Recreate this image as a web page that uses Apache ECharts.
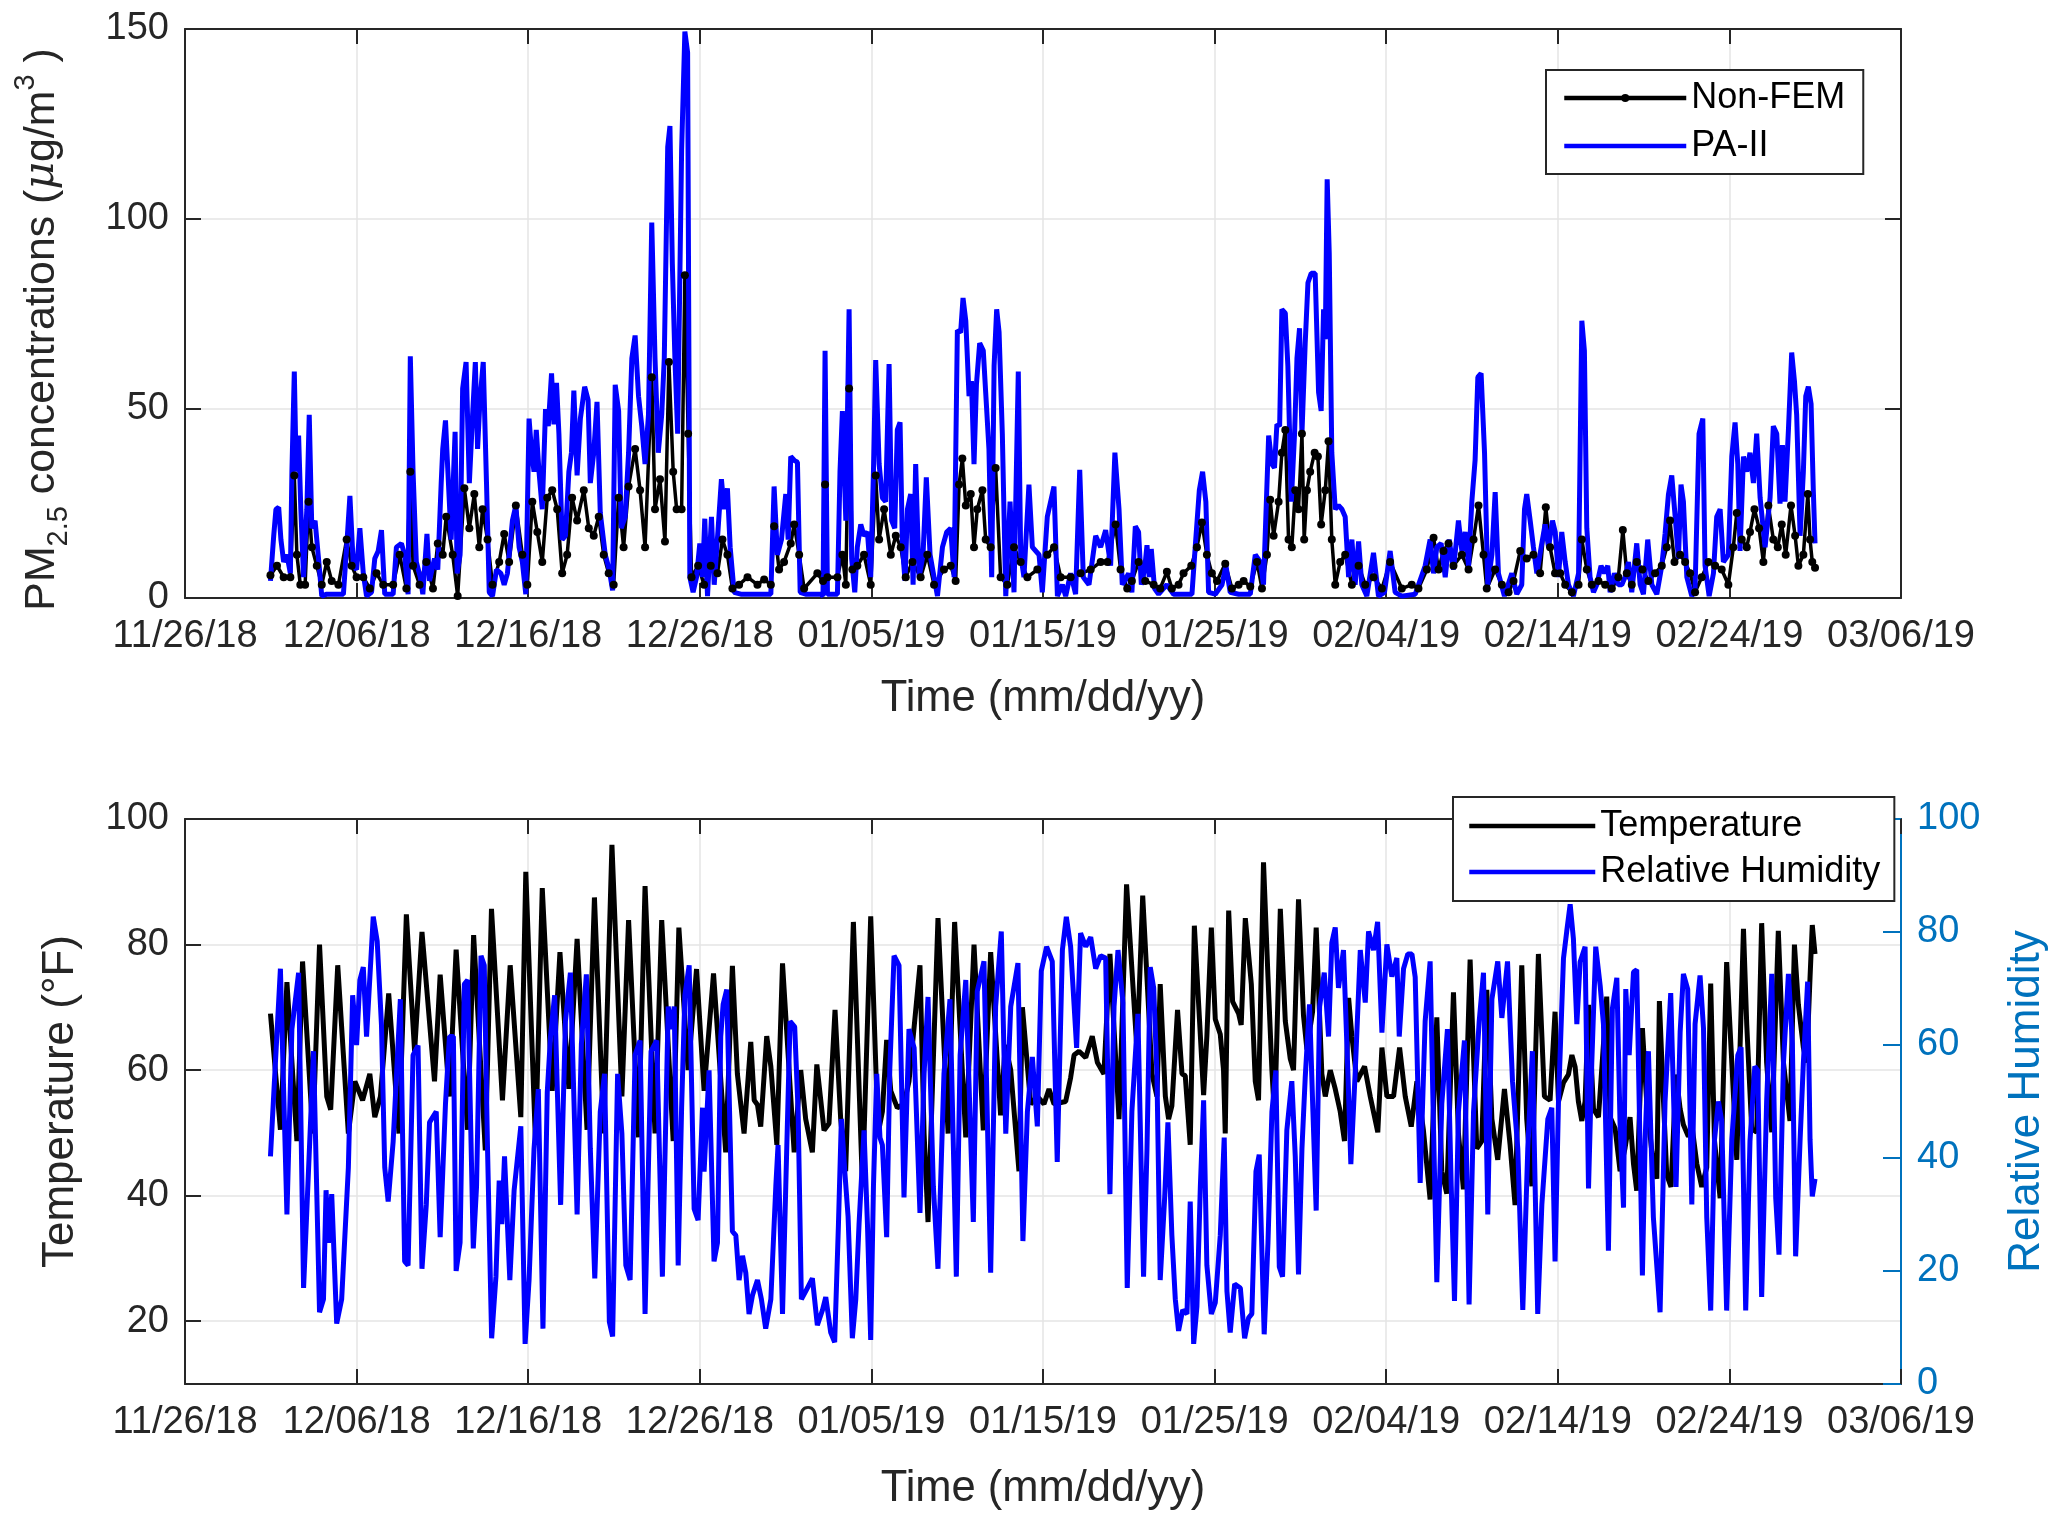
<!DOCTYPE html>
<html>
<head>
<meta charset="utf-8">
<script src="https://cdn.jsdelivr.net/npm/echarts@6/dist/echarts.min.js"></script>
<style>
  html, body { margin: 0; padding: 0; background: #fff; }
  #chart { width: 2067px; height: 1526px; }
</style>
</head>
<body>
<div id="chart"></div>
<script>
// time is in days since 11/26/18 00:00
const tickLabels = ['11/26/18', '12/06/18', '12/16/18', '12/26/18', '01/05/19', '01/15/19',
  '01/25/19', '02/04/19', '02/14/19', '02/24/19', '03/06/19'];

// PM2.5, ug/m3
const nonFem = [[4.98,6],[5.36,8.5],[5.75,5.5],[6.14,5.5],[6.37,32.3],[6.52,11.4],[6.72,3.5],[7.0,3.5],[7.20,25.4],[7.39,13.4],[7.68,8.5],[7.97,3.5],[8.26,9.5],[8.55,4.5],[8.94,3.5],[9.42,15.4],[9.71,8.5],[10.0,5.5],[10.39,5.5],[10.77,2.5],[11.16,6.5],[11.55,3.5],[12.13,3.5],[12.51,11.4],[12.90,2.5],[13.13,33.3],[13.29,8.5],[13.67,3.5],[14.06,9.5],[14.45,2.5],[14.73,14.4],[15.02,11.4],[15.22,21.4],[15.60,11.4],[15.89,0.5],[16.28,28.9],[16.57,18.4],[16.86,27.4],[17.15,13.4],[17.34,23.4],[17.63,15.4],[17.92,3.5],[18.31,9.5],[18.60,16.9],[18.89,9.5],[19.28,24.4],[19.66,11.4],[19.95,3.5],[20.24,25.4],[20.53,17.4],[20.82,9.5],[21.11,26.4],[21.40,28.4],[21.69,23.4],[21.98,6.5],[22.27,11.4],[22.56,26.4],[22.85,20.4],[23.24,28.4],[23.53,18.4],[23.82,16.4],[24.11,21.4],[24.40,11.4],[24.69,6.5],[24.98,3.5],[25.27,26.4],[25.56,13.4],[25.85,29.4],[26.23,39.3],[26.52,28.4],[26.81,13.4],[27.20,58.2],[27.39,23.4],[27.68,31.3],[27.97,14.9],[28.20,62.2],[28.45,33.3],[28.65,23.4],[28.94,23.4],[29.13,85.1],[29.32,43.3],[29.52,5.5],[29.90,8.5],
  [30.25,3.5],[30.64,8.5],[31.03,6.5],[31.32,15.4],[31.61,11.4],[31.90,2.5],[32.29,3.5],[32.78,5.5],[33.36,3.5],[33.75,4.9],[34.14,3.5],[34.33,18.9],[34.62,7.5],[34.91,9.5],[35.30,14.4],[35.50,19.4],[35.79,11.4],[36.08,2.5],[36.85,6.5],[37.18,4.5],[37.30,29.9],[37.44,5.5],[38.02,5.5],[38.31,11.4],[38.51,3.5],[38.70,55.2],[38.89,7.5],[39.18,8.5],[39.57,11.4],[39.96,3.5],[40.25,32.3],[40.45,15.4],[40.74,23.4],[41.13,11.4],[41.42,16.4],[41.71,13.4],[42.0,5.5],[42.39,9.5],[42.87,5.5],[43.26,11.4],[43.65,3.5],[44.23,7.5],[44.62,8.5],[44.91,4.5],[45.11,29.9],[45.30,36.8],[45.50,24.4],[45.79,27.4],[45.98,13.4],[46.17,23.4],[46.47,28.4],[46.66,15.4],[46.95,13.4],[47.24,34.3],[47.53,5.5],[47.92,3.5],[48.31,13.4],[48.70,9.5],[49.09,5.5],[49.67,7.5],[50.25,11.4],[50.64,13.4],[51.03,5.5],[51.61,5.5],[52.19,6.5],[52.78,7.5],[53.36,9.5],[53.75,9.5],[54.23,19.4],[54.52,7.5],[54.91,2.5],
  [55.18,4.5],[55.57,9.5],[55.96,4.5],[56.45,3.5],[56.83,2.5],[57.22,6.9],[57.51,2.5],[57.90,3.5],[58.19,6.5],[58.64,8.5],[58.97,13.4],[59.26,19.9],[59.55,11.4],[59.84,6.5],[60.14,4.5],[60.62,9],[61.01,2.5],[61.40,3.5],[61.69,4.5],[62.08,3],[62.47,9.5],[62.76,2.5],[63.05,11.4],[63.24,25.9],[63.44,16.4],[63.73,25.4],[63.92,38.3],[64.12,44.3],[64.31,15.4],[64.50,13.4],[64.70,28.4],[64.89,23.4],[65.09,43.3],[65.22,15.4],[65.38,28.4],[65.57,33.3],[65.83,38.3],[66.02,37.3],[66.21,19.4],[66.45,28.4],[66.64,41.3],[66.83,15.4],[67.03,3.5],[67.32,9.5],[67.61,11.4],[68.0,3.5],[68.39,8.5],[68.78,3.5],[69.26,5.5],[69.75,2.5],[70.23,9.5],[70.91,2.5],[71.49,3.5],[71.88,2.5],[72.37,7.5],[72.76,15.9],[73.05,7.5],[73.34,12.4],[73.63,14.4],[73.92,8.5],[74.41,11.4],[74.80,7.5],[75.09,15.4],[75.38,24.4],[75.67,11.4],[75.86,2.5],[76.35,7.5],[76.74,3.5],[77.13,1.5],[77.42,4.5],[77.81,12.4],[78.19,10.4],[78.58,11.4],[78.97,6.5],[79.30,23.9],[79.55,13.4],[79.84,6.5],
  [80.14,6.5],[80.43,3.5],[80.82,1.5],[81.21,3.5],[81.40,15.4],[81.69,7.5],[81.98,3.5],[82.37,4.5],[82.76,3.5],[83.15,2.5],[83.53,5.5],[83.79,17.9],[84.02,6.5],[84.31,3.5],[84.60,9.5],[84.93,7.5],[85.28,4.5],[85.67,6.5],[86.06,8.5],[86.35,13.4],[86.54,20.4],[86.80,9.5],[87.13,11.4],[87.42,9.5],[87.71,6.5],[88.0,1.5],[88.39,5.5],[88.78,9.5],[89.17,8.5],[89.55,7.5],[89.94,3.5],[90.23,13.4],[90.43,22.4],[90.72,15.4],[91.01,13.4],[91.20,17.4],[91.46,23.4],[91.73,18.4],[91.98,9.5],[92.27,24.4],[92.56,15.4],[92.82,13.4],[93.05,19.4],[93.28,11.4],[93.59,24.4],[93.83,16.4],[94.02,8.5],[94.31,11.4],[94.57,27.4],[94.70,15.4],[94.83,9.5],[94.99,8]];

const paII = [[4.98,4.5],[5.17,16.4],[5.30,23.4],[5.46,23.9],[5.59,15.4],[5.75,9.5],[5.94,11.4],[6.14,6.5],[6.23,33.3],[6.37,59.7],[6.48,33.3],[6.62,42.8],[6.75,23.4],[6.91,5.5],[7.10,23.4],[7.24,48.3],[7.39,18.4],[7.58,20.4],[7.78,10.4],[7.97,0.5],[8.26,1],[8.65,1],[9.23,1],[9.42,13.4],[9.61,26.9],[9.81,8.5],[10.0,7.5],[10.19,18.4],[10.39,6.5],[10.58,0.5],[10.87,1.5],[11.06,10.4],[11.26,12.4],[11.45,17.9],[11.64,1],[11.93,1],[12.13,1],[12.32,13.4],[12.61,14.4],[12.80,11.4],[13.0,1],[13.13,63.7],[13.29,33.3],[13.48,9.5],[13.71,5.5],[13.86,1],[14.10,16.9],[14.25,4.5],[14.54,10.4],[14.73,7.5],[14.93,30.3],[15.02,39.3],[15.18,46.8],[15.31,34.3],[15.51,15.4],[15.74,43.8],[15.86,6.5],[16.03,11.4],[16.18,55.2],[16.38,62.2],[16.57,30.3],[16.76,48.3],[16.92,62.2],[17.05,39.3],[17.19,52.2],[17.38,62.2],[17.57,30.3],[17.73,1.5],[17.92,0.5],[18.15,7.5],[18.41,6.5],[18.60,3.5],[18.79,6.5],[19.08,20.4],[19.28,24.4],[19.47,13.4],[19.66,9.5],[19.86,1],[20.05,47.3],[20.20,38.3],[20.34,33.3],[20.47,44.3],[20.63,33.3],[20.82,23.4],[21.01,49.8],[21.17,45.3],[21.36,59.2],[21.50,45.8],[21.65,56.7],[21.79,43.3],[21.98,15.4],[22.17,16.4],[22.37,33.3],[22.52,38.3],[22.66,54.7],[22.85,32.3],[23.04,47.3],[23.29,55.7],[23.49,52.2],[23.62,30.3],[23.82,38.3],[24.01,51.7],[24.20,22.4],[24.49,11.4],[24.72,7.5],[24.92,2],[25.07,56.2],[25.27,49.3],[25.42,18.4],[25.65,21.4],[25.85,38.3],[26.04,63.2],[26.23,69.2],[26.43,53.2],[26.62,45.3],[26.81,35.3],[27.01,48.3],[27.20,99],[27.39,63.2],[27.58,38.3],[27.78,48.3],[27.93,63.2],[28.13,118.9],[28.26,124.4],[28.40,88.1],[28.55,63.2],[28.71,43.3],[28.94,117.9],[29.13,149.3],[29.29,143.8],[29.42,5.5],[29.61,1.5],[29.81,5.5],
  [30.0,14.4],[30.16,5.5],[30.29,20.9],[30.45,0.5],[30.68,21.4],[30.84,3.5],[31.07,18.4],[31.26,31.3],[31.42,23.4],[31.61,28.9],[31.77,13.4],[32.0,1.5],[32.39,1],[33.36,1],[34.14,1],[34.33,29.4],[34.52,11.4],[34.76,15.4],[35.01,27.4],[35.15,15.4],[35.30,37.3],[35.50,36.3],[35.69,35.8],[35.85,1.5],[36.17,1],[37.05,1],[37.18,0.5],[37.30,65.2],[37.44,1],[38.02,1],[38.17,33.3],[38.31,49.3],[38.51,20.4],[38.70,76.1],[38.85,10.4],[39.03,1.5],[39.18,13.4],[39.38,19.4],[39.57,16.4],[39.77,17.4],[39.96,5.5],[40.12,33.3],[40.25,62.7],[40.45,35.3],[40.64,26.4],[40.83,25.4],[41.03,61.7],[41.18,20.4],[41.36,18.4],[41.51,44.3],[41.67,46.3],[41.81,13.4],[41.96,4.5],[42.10,23.4],[42.29,27.4],[42.43,3.5],[42.58,35.3],[42.78,5.5],[43.01,11.4],[43.20,31.8],[43.42,11.4],[43.65,5.5],[43.85,0.5],[44.14,13.4],[44.39,17.4],[44.62,18.4],[44.82,5.5],[45.01,70.6],[45.20,70],[45.34,79.1],[45.50,73.1],[45.69,53.2],[45.83,57.2],[45.98,35.3],[46.12,56.2],[46.31,67.2],[46.52,65.2],[46.66,54.2],[46.85,39.3],[47.01,5.5],[47.15,61.2],[47.30,76.1],[47.44,70.1],[47.63,43.3],[47.83,0.5],[48.08,25.4],[48.31,1.5],[48.56,59.7],[48.70,11.4],[48.89,5.5],[49.18,29.9],[49.38,13.4],[49.77,11.4],[49.96,1.5],[50.25,21.4],[50.64,29.4],[50.84,0.5],[51.13,3.5],[51.32,0.5],[51.61,6.5],[51.90,1],[52.14,33.8],[52.35,5.5],[52.68,3.5],[53.07,16.4],[53.36,13.4],[53.65,17.9],[53.94,8.5],[54.19,38.3],[54.43,23.4],[54.62,3.5],
  [54.99,6.5],[55.18,1.5],[55.38,18.9],[55.57,17.4],[55.73,3.5],[55.92,7.5],[56.06,13.9],[56.19,5.5],[56.31,12.9],[56.50,2.5],[56.74,1],[57.22,3.5],[57.61,1],[58.19,1],[58.68,1],[58.87,13.4],[59.11,28.4],[59.30,33.3],[59.49,25.4],[59.65,1.5],[60.04,1],[60.43,3.5],[60.66,8.5],[60.91,1.5],[61.40,1],[62.08,1],[62.37,11.4],[62.66,9.5],[62.85,3.5],[63.15,42.8],[63.34,35.3],[63.49,34.3],[63.63,45.8],[63.79,45.3],[63.92,76.1],[64.12,75.1],[64.27,61.2],[64.47,25.4],[64.66,43.3],[64.80,63.2],[64.95,71.1],[65.09,43.3],[65.28,67.2],[65.44,83.1],[65.63,85.6],[65.86,85.6],[66.06,54.2],[66.21,49.3],[66.35,76.1],[66.45,68.2],[66.56,110.4],[66.68,91],[66.83,38.3],[67.03,23.4],[67.22,24.4],[67.42,23.4],[67.61,21.4],[67.81,5.5],[68.0,15.4],[68.19,3.5],[68.39,14.9],[68.58,3.5],[68.87,0.5],[69.26,11.9],[69.55,0.5],[69.90,1.5],[70.23,12.4],[70.52,1.5],[70.91,0.5],[71.69,1],[72.27,8.5],[72.56,15.4],[72.76,6.5],[72.95,13.4],[73.20,14.4],[73.44,5.5],[73.67,15.4],[73.92,7.5],[74.21,20.4],[74.41,12.4],[74.60,17.4],[74.80,8.5],[74.99,25.4],[75.18,36.3],[75.34,58.2],[75.53,59.2],[75.73,38.3],[75.92,3.5],[76.16,11.4],[76.35,27.9],[76.54,6.5],[76.89,0.5],[77.32,6.5],[77.61,1],[77.90,3.5],[78.06,23.4],[78.19,27.4],[78.39,20.4],[78.58,13.4],[78.78,6.5],[79.03,13.4],[79.26,19.4],[79.46,13.4],[79.69,20.4],
  [79.85,17.4],[80.04,5.5],[80.23,17.4],[80.43,9.5],[80.62,3.5],[80.91,0.5],[81.21,6.5],[81.40,73.1],[81.55,65.2],[81.69,18.4],[81.88,5.5],[82.08,1.5],[82.27,3.5],[82.52,8.5],[82.72,6.5],[82.91,8.5],[83.05,1.5],[83.30,6.5],[83.53,3.5],[83.73,3.5],[83.92,5.5],[84.12,9.5],[84.31,1.5],[84.60,14.4],[84.80,3.5],[84.99,1],[85.24,15.4],[85.48,3.5],[85.77,1],[86.06,8.5],[86.25,16.9],[86.45,27.4],[86.64,32.3],[86.84,21.4],[87.03,10.4],[87.18,29.9],[87.32,25.4],[87.52,5.5],[87.81,0.5],[88.0,2.5],[88.23,43.3],[88.45,47.3],[88.58,8.5],[88.82,0.5],[89.07,6.5],[89.26,21.4],[89.46,23.4],[89.65,9.5],[89.94,11.4],[90.14,37.3],[90.33,46.3],[90.49,35.3],[90.62,12.4],[90.82,37.3],[91.01,33.3],[91.20,38.3],[91.40,30.3],[91.59,43.3],[91.79,26.4],[92.08,13.4],[92.37,26.4],[92.56,45.3],[92.76,43.3],[92.95,24.9],[93.09,40.3],[93.24,25.4],[93.44,44.3],[93.63,64.7],[93.79,57.2],[93.92,48.3],[94.12,16.4],[94.31,33.3],[94.45,53.2],[94.60,55.7],[94.76,51.2],[94.89,28.4],[94.99,14.4]];

// temperature, F
const temperature = [[4.98,69],[5.56,50.5],[5.94,74],[6.52,48.7],[6.85,77.3],[7.45,49.9],[7.84,80],[8.26,55.8],[8.49,53.7],[8.90,76.7],[9.52,49.9],[9.90,58.2],[10.35,55.2],[10.77,59.4],[11.06,52.5],[11.39,55.8],[11.87,72.2],[12.47,49.9],[12.90,84.8],[13.38,63],[13.81,82],[14.54,58.2],[14.87,75.2],[15.41,55.8],[15.80,79.2],[16.47,50.5],[16.82,81.5],[17.50,47.2],[17.86,85.7],[18.50,55.2],[18.95,76.7],[19.57,52.5],[19.86,91.6],[20.43,48.1],[20.82,89],[21.40,56.7],[21.85,78.8],[22.37,57],[22.85,80.9],[23.43,50.5],[23.86,87.5],[24.40,49.9],[24.88,95.9],[25.46,55.8],[25.85,83.9],[26.43,49.3],[26.81,89.3],[27.39,49.9],[27.78,83.9],[28.45,48.7],[28.78,82.7],[29.32,60],[29.81,76.1],
  [30.25,56.7],[30.80,75.4],[31.51,46.9],[31.90,76.6],[32.19,59.4],[32.58,49.9],[32.97,64.5],[33.17,55.2],[33.36,54.5],[33.55,51],[33.90,65.4],[34.14,60.6],[34.49,48.1],[34.82,77],[35.50,46.9],[35.88,60],[36.17,52.2],[36.56,46.9],[36.82,60.9],[37.05,55.2],[37.24,50.4],[37.53,51.5],[37.88,69.6],[38.21,52.2],[38.50,43.9],[38.95,83.6],[39.48,41.5],[39.96,84.5],[40.39,49.9],[40.64,53.4],[40.89,64.8],[41.13,56.7],[41.51,54],[41.90,54.6],[42.19,58.2],[42.83,76.7],[43.07,49.9],[43.30,35.8],[43.88,84.2],[44.47,49.9],[44.85,83.6],[45.50,49.3],[45.98,80],[46.52,50.4],[46.95,78.8],[47.53,52.8],[47.80,64],[48.12,60],[48.60,43.9],[48.80,70],[49.28,54.6],[49.67,55.8],[50.06,54.6],[50.35,57],[50.64,54.6],[51.32,55],[51.61,58.8],[51.81,62.4],[52.10,63],[52.49,62],[52.87,65.4],[53.17,61.2],[53.55,59.4],[53.90,78.5],[54.43,52.2],[54.87,89.6],
  [55.48,63],[55.81,87.8],[56.35,59.4],[56.64,55.8],[56.83,73.7],[57.13,55.8],[57.32,52.2],[57.51,54.3],[57.84,69.6],[58.10,59.4],[58.29,59.1],[58.58,48.1],[58.82,83],[59.36,56],[59.55,65.4],[59.81,82.7],[60.04,68.1],[60.33,65.7],[60.52,60],[60.62,49.9],[60.82,85.4],[61.05,70.9],[61.40,69],[61.55,67.2],[61.79,84.2],[62.14,73.7],[62.37,58.2],[62.56,55.2],[62.85,93.1],[63.11,74.9],[63.34,60],[63.50,52.2],[63.83,85.7],[64.12,67.8],[64.41,61.8],[64.60,60],[64.89,87.2],[65.18,68.7],[65.38,63.3],[65.71,69.3],[65.92,82.7],[66.25,59.4],[66.45,55.8],[66.74,60],[67.03,57],[67.32,53.4],[67.57,48.7],[67.81,71.5],[68.00,65.4],[68.29,58.2],[68.74,60.6],[69.07,55.8],[69.51,50.1],[69.75,63.6],[70.04,55.8],[70.43,55.8],[70.78,63.6],[71.11,55.8],[71.46,51],[71.79,58.2],[72.17,50.4],[72.56,39.4],[72.95,68.4],[73.24,43.9],[73.53,40.3],[73.92,72.4],[74.21,49.9],[74.50,41],[74.89,77.6],[75.28,47.5],[75.57,48.7],[75.86,72.8],[76.16,52.2],[76.50,45.7],[76.89,57],[77.22,48.1],[77.51,38.5],[77.90,76.7],[78.19,52.2],[78.49,41.5],[78.87,78.5],[79.22,55.8],[79.55,55.2],[79.84,69.3],
  [80.04,55],[80.33,58],[80.62,59.3],[80.82,62.4],[81.01,60.5],[81.20,55],[81.40,51.9],[81.59,55],[81.79,70.4],[82.08,53.8],[82.37,52.5],[82.85,71.7],[83.05,52.5],[83.34,50.7],[83.63,43.9],[83.92,47.6],[84.21,52.5],[84.41,45.1],[84.60,40.8],[84.93,66.7],[85.18,55],[85.48,47],[85.77,42.7],[85.92,71],[86.16,55],[86.35,43.3],[86.60,41.4],[86.89,59.3],[87.13,53.8],[87.32,51.3],[87.61,49.4],[87.84,50.7],[88.10,45.1],[88.39,41.4],[88.68,44.5],[88.91,73.8],[89.13,48.8],[89.46,39.6],[89.84,77.2],[90.14,61.2],[90.43,45.7],[90.82,82.5],[91.01,67.3],[91.30,50.7],[91.59,50.1],[91.88,83.4],[92.17,61.2],[92.47,50.1],[92.85,82.2],[93.15,61.2],[93.53,51.9],[93.79,80],[94.02,70.4],[94.31,63.6],[94.50,61.2],[94.70,74.8],[94.83,83.1],[94.99,78.5]];

// relative humidity, %
const humidity = [[4.98,40.3],[5.56,73.5],[5.94,30],[6.23,62.8],[6.62,72.8],[6.91,17],[7.49,58.9],[7.84,12.7],[8.07,15],[8.22,34.3],[8.36,25],[8.55,33.6],[8.84,10.7],[9.13,15],[9.52,38.3],[9.77,68.8],[10.0,60],[10.19,71.5],[10.39,73.8],[10.58,61.5],[10.97,82.7],[11.20,78.4],[11.45,63.5],[11.64,38.3],[11.84,32.3],[12.13,42.9],[12.55,68.1],[12.80,21.7],[13.0,21],[13.29,58.2],[13.58,59.9],[13.81,20.4],[14.06,31.7],[14.25,46.3],[14.64,48.2],[14.87,26],[15.18,49.6],[15.41,61.5],[15.64,61.5],[15.80,20],[16.03,25],[16.28,70.8],[16.47,71.5],[16.80,24],[16.99,35],[17.25,75.8],[17.44,74.1],[17.63,41.6],[17.87,8.1],[18.12,19],[18.31,36],[18.46,28.3],[18.62,40.3],[18.93,18.4],[19.18,34.3],[19.57,45.6],[19.82,7.1],[20.05,18.4],[20.34,41.6],[20.59,52.2],[20.86,9.8],[21.11,51.6],[21.30,61.5],[21.54,68.8],[21.89,31.7],[22.17,64.2],[22.46,72.8],[22.85,30],[23.10,60.2],[23.39,72.5],[23.62,41.6],[23.88,18.7],[24.20,48.2],[24.45,54.9],[24.73,11],[24.92,8.4],[25.21,54.9],[25.46,44.3],[25.69,21],[25.94,18.4],[26.23,58.2],[26.52,60.8],[26.81,12.4],[27.16,58.9],[27.49,60.8],[27.82,19],[28.16,66.8],[28.36,62.8],[28.51,66.8],[28.74,21],[28.94,48.9],[29.13,68.8],[29.38,74.1],[29.67,31],[29.90,29],
  [30.16,48.9],[30.25,37.6],[30.54,55.5],[30.83,21.7],[31.03,25],[31.22,61.5],[31.36,67.2],[31.57,69.8],[31.77,43.6],[31.90,27],[32.10,26.3],[32.29,18.4],[32.49,22.7],[32.68,19.7],[32.87,12.4],[33.07,15.7],[33.36,18.4],[33.59,15],[33.84,9.8],[34.14,15],[34.43,35],[34.56,42.3],[34.82,12.4],[35.01,35],[35.26,64.2],[35.53,63.2],[35.73,48.2],[35.92,15],[36.17,16.4],[36.56,18.7],[36.85,10.4],[37.15,13.1],[37.34,15.4],[37.63,9.1],[37.86,7.4],[38.08,28.3],[38.25,46.9],[38.45,37.6],[38.64,29.7],[38.89,8.1],[39.09,15],[39.28,28.3],[39.57,44.9],[39.77,28.3],[39.96,7.8],[40.12,35],[40.31,54.9],[40.50,43.6],[40.64,42.3],[40.89,26],[41.07,55.5],[41.32,75.8],[41.61,74.1],[41.90,33],[42.19,62.8],[42.49,59.5],[42.83,30.3],[43.07,54.9],[43.30,68.5],[43.61,35],[43.88,20.4],[44.23,54.9],[44.58,68.1],[44.95,19],[45.17,58.2],[45.50,71.5],[45.94,28.7],[46.17,69.5],[46.56,74.8],[46.95,19.7],[47.24,66.8],[47.57,80.1],[47.83,44.3],[48.12,66.8],[48.54,74.5],[48.83,25.3],[49.09,48.2],[49.38,57.9],[49.67,45.6],[49.90,73.1],[50.21,77.4],[50.54,74.8],[50.83,39.3],[51.13,76.8],[51.36,82.7],[51.61,77.4],[51.96,59.5],[52.19,79.8],[52.49,77.4],[52.78,79.1],[53.07,73.5],[53.36,75.8],[53.65,75.4],[53.90,33.6],[54.14,66.8],[54.37,76.8],[54.66,67.5],[54.91,17],
  [55.18,48.2],[55.53,65.5],[55.86,19],[56.06,41.6],[56.25,73.8],[56.45,70.1],[56.64,54.9],[56.83,18.4],[57.09,33],[57.28,46.3],[57.51,26.3],[57.71,15],[57.90,9.4],[58.14,13.1],[58.39,12.4],[58.58,32.3],[58.78,7.1],[58.97,13.7],[59.17,35],[59.36,50.2],[59.55,21],[59.81,12.4],[60.04,14.4],[60.33,26.3],[60.56,43.6],[60.72,16.4],[60.91,9.1],[61.17,17.7],[61.50,17],[61.75,8.1],[61.98,11.7],[62.17,12.4],[62.41,37.6],[62.60,40.6],[62.89,8.8],[63.11,25],[63.34,48.2],[63.57,55.5],[63.77,20.7],[63.96,19],[64.21,44.9],[64.50,53.6],[64.70,40.3],[64.89,19.4],[65.09,41.6],[65.28,54.2],[65.53,67.2],[65.73,48.2],[65.92,30.7],[66.12,66.8],[66.39,72.8],[66.64,61.5],[66.83,78.1],[67.03,80.8],[67.22,70.1],[67.51,76.8],[67.77,54.9],[67.94,38.9],[68.19,54.9],[68.49,76.8],[68.78,67.5],[68.97,80.1],[69.26,76.8],[69.50,81.8],[69.75,62.2],[70.04,77.8],[70.33,72.1],[70.62,75.4],[70.76,61.5],[71.01,73.5],[71.26,76.1],[71.50,76.1],[71.69,72],[71.98,35.6],[72.27,64.2],[72.56,74.8],[72.76,44.9],[72.95,18],[73.24,49.6],[73.57,62.8],[73.79,35],[73.98,14.7],[74.21,48.2],[74.56,60.8],[74.83,14.1],[75.09,48.2],[75.42,64.2],[75.67,72.8],[75.92,30],[76.16,68.1],[76.50,74.8],[76.74,64.8],[77.07,74.8],[77.36,53.6],[77.67,41.6],[77.96,13.1],[78.25,41.6],[78.52,58.9],[78.83,12.4],[79.07,31.7],[79.42,46.9],[79.65,48.9],[79.84,21.7],
  [80.04,50],[80.33,75.3],[80.52,80.1],[80.72,84.9],[80.91,78.8],[81.11,63.7],[81.30,74.7],[81.59,77.4],[81.79,34.6],[81.98,56.8],[82.21,77.4],[82.47,70.5],[82.66,63.7],[82.95,23.6],[83.18,66.4],[83.44,71.9],[83.63,45.9],[83.83,31.2],[83.96,69.9],[84.16,58.2],[84.41,72.9],[84.60,73.3],[84.93,19.2],[85.09,43.2],[85.28,58.9],[85.57,29.5],[85.96,12.7],[86.25,50],[86.58,69.2],[86.89,34.9],[87.13,62.3],[87.32,72.6],[87.57,69.9],[87.81,31.8],[88.00,63.7],[88.29,72.3],[88.49,63],[88.68,29.5],[88.91,13],[89.13,43.2],[89.36,50],[89.55,46.6],[89.84,13],[90.14,43.2],[90.49,58.2],[90.68,59.6],[90.95,13],[91.20,43],[91.48,56.2],[91.65,55.5],[91.88,15.4],[92.17,50],[92.47,72.6],[92.70,32.9],[92.89,22.9],[93.15,56.8],[93.44,72.6],[93.67,60.3],[93.86,22.6],[94.12,43.2],[94.31,56.8],[94.56,71.2],[94.70,43.2],[94.83,33.2],[94.99,36.3]];

const chart = echarts.init(document.getElementById('chart'));

const axisColor = '#262626';
const rhColor = '#0072BD';
const font = 'Liberation Sans, Arial, Helvetica, sans-serif';
const gridColor = '#e4e4e4';

function timeAxis(gridIndex, top) {
  return {
    type: 'value', gridIndex: gridIndex, position: top ? 'top' : 'bottom',
    min: 0, max: 100, interval: 10,
    axisLine: { show: true, onZero: false, lineStyle: { color: axisColor, width: 2 } },
    axisTick: { show: true, inside: true, length: 15, lineStyle: { color: axisColor, width: 2 } },
    axisLabel: top ? { show: false } : {
      show: true, fontSize: 38, color: axisColor, fontFamily: font, margin: 20,
      formatter: function (v) { return tickLabels[Math.round(v / 10)]; }
    },
    splitLine: { show: !top, lineStyle: { color: gridColor, width: 1.5 } },
    name: top ? '' : 'Time (mm/dd/yy)',
    nameLocation: 'middle', nameGap: gridIndex === 0 ? 79 : 83,
    nameTextStyle: { fontSize: 43.5, color: axisColor, fontFamily: font }
  };
}

const option = {
  animation: false,
  backgroundColor: '#fff',
  grid: [
    { left: 185, top: 29, width: 1716, height: 569, containLabel: false },
    { left: 185, top: 819, width: 1716, height: 565, containLabel: false }
  ],
  legend: [
    {
      data: [
        { name: 'Non-FEM' },
        { name: 'PA-II', itemStyle: { opacity: 0 } }
      ],
      orient: 'vertical', left: 1546, top: 70,
      itemWidth: 122, itemHeight: 10, itemGap: 8,
      padding: [8, 18, 8, 16],
      borderColor: axisColor, borderWidth: 2, backgroundColor: '#fff',
      lineStyle: { width: 4.5 },
      textStyle: { fontSize: 36, color: '#000', fontFamily: font, lineHeight: 40 },
      selectedMode: false
    },
    {
      data: [
        { name: 'Temperature', itemStyle: { opacity: 0 } },
        { name: 'Relative Humidity', itemStyle: { opacity: 0 } }
      ],
      orient: 'vertical', left: 1453, top: 797,
      itemWidth: 126, itemHeight: 10, itemGap: 6,
      padding: [9, 14, 9, 14],
      borderColor: axisColor, borderWidth: 2, backgroundColor: '#fff',
      lineStyle: { width: 4.5 },
      textStyle: { fontSize: 36, color: '#000', fontFamily: font, lineHeight: 40 },
      selectedMode: false
    }
  ],
  xAxis: [timeAxis(0, false), timeAxis(0, true), timeAxis(1, false), timeAxis(1, true)],
  yAxis: [
    {
      type: 'value', gridIndex: 0, position: 'left', min: 0, max: 150, interval: 50,
      axisLine: { show: true, onZero: false, lineStyle: { color: axisColor, width: 2 } },
      axisTick: { show: true, inside: true, length: 16, lineStyle: { color: axisColor, width: 2 } },
      axisLabel: { fontSize: 38, color: axisColor, fontFamily: font, margin: 16 },
      splitLine: { show: true, lineStyle: { color: gridColor, width: 1.5 } },
      name: '{a|PM}{s|2.5}{a| concentrations (}{i|μ}{a|g/m}{p|3}{a| )}',
      nameLocation: 'middle', nameRotate: 90, nameGap: 112,
      nameTextStyle: {
        color: axisColor, fontFamily: font, padding: [0, 32, 0, 0],
        rich: {
          a: { fontSize: 42.8, lineHeight: 62, color: axisColor, fontFamily: font },
          i: { fontSize: 42.8, lineHeight: 62, color: axisColor, fontFamily: 'DejaVu Serif, serif', fontStyle: 'italic' },
          s: { fontSize: 29, lineHeight: 29, verticalAlign: 'bottom', color: axisColor, fontFamily: font },
          p: { fontSize: 29, lineHeight: 29, verticalAlign: 'top', color: axisColor, fontFamily: font }
        }
      }
    },
    {
      type: 'value', gridIndex: 0, position: 'right', min: 0, max: 150, interval: 50,
      axisLine: { show: true, onZero: false, lineStyle: { color: axisColor, width: 2 } },
      axisTick: { show: true, inside: true, length: 16, lineStyle: { color: axisColor, width: 2 } },
      axisLabel: { show: false },
      splitLine: { show: false }
    },
    {
      type: 'value', gridIndex: 1, position: 'left', min: 10, max: 100, splitNumber: 5,
      axisLine: { show: true, onZero: false, lineStyle: { color: axisColor, width: 2 } },
      axisTick: { show: true, inside: true, length: 16, lineStyle: { color: axisColor, width: 2 } },
      axisLabel: {
        fontSize: 38, color: axisColor, fontFamily: font, margin: 16, showMinLabel: false,
        formatter: function (v) { return v % 20 === 0 ? String(v) : ''; }
      },
      splitLine: { show: true, lineStyle: { color: gridColor, width: 1.5 } },
      name: 'Temperature (°F)',
      nameLocation: 'middle', nameRotate: 90, nameGap: 102,
      nameTextStyle: { fontSize: 44, color: axisColor, fontFamily: font }
    },
    {
      type: 'value', gridIndex: 1, position: 'right', min: 0, max: 100, interval: 20,
      axisLine: { show: true, onZero: false, lineStyle: { color: rhColor, width: 2 } },
      axisTick: { show: true, inside: true, length: 18, lineStyle: { color: rhColor, width: 2 } },
      axisLabel: { fontSize: 38, color: rhColor, fontFamily: font, margin: 16 },
      splitLine: { show: false },
      name: 'Relative Humidity',
      nameLocation: 'middle', nameRotate: 90, nameGap: 104,
      nameTextStyle: { fontSize: 44, color: rhColor, fontFamily: font }
    }
  ],
  series: [
    {
      name: 'Non-FEM', type: 'line', xAxisIndex: 0, yAxisIndex: 0, data: nonFem,
      symbol: 'circle', symbolSize: 8, showSymbol: true,
      lineStyle: { color: '#000', width: 3.5 }, itemStyle: { color: '#000' }
    },
    {
      name: 'PA-II', type: 'line', xAxisIndex: 0, yAxisIndex: 0, data: paII,
      symbol: 'none', lineStyle: { color: '#0000ff', width: 5 }, itemStyle: { color: '#0000ff' }
    },
    {
      name: 'Temperature', type: 'line', xAxisIndex: 2, yAxisIndex: 2, data: temperature,
      symbol: 'none', lineStyle: { color: '#000', width: 5 }, itemStyle: { color: '#000' }
    },
    {
      name: 'Relative Humidity', type: 'line', xAxisIndex: 2, yAxisIndex: 3, data: humidity,
      symbol: 'none', lineStyle: { color: '#0000ff', width: 5 }, itemStyle: { color: '#0000ff' }
    }
  ]
};

chart.setOption(option);
</script>
</body>
</html>
